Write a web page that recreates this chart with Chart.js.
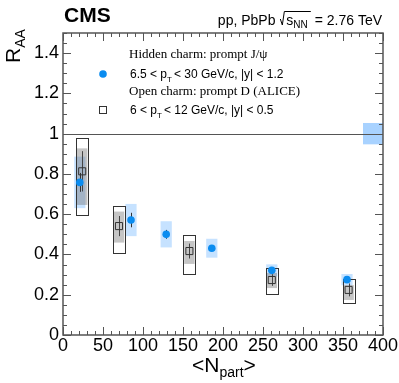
<!DOCTYPE html>
<html>
<head>
<meta charset="utf-8">
<script src="https://cdn.jsdelivr.net/npm/chart.js@4"></script>
<style>
  body { margin: 0; background: #fff; }
  canvas { display: block; }
</style>
</head>
<body>
<canvas id="raaChart" width="399" height="383"></canvas>
<script>
// axis ticks
const xTicks = [0, 50, 100, 150, 200, 250, 300, 350, 400];
const yTicks = [0, 0.2, 0.4, 0.6, 0.8, 1, 1.2, 1.4];
const yTickLabels = ["0", "0.2", "0.4", "0.6", "0.8", "1", "1.2", "1.4"];

// CMS prompt J/psi
const jpsiNpart = [21, 85, 129, 186, 261, 355];
const jpsiRaa = [0.758, 0.571, 0.500, 0.431, 0.321, 0.275];
const jpsiStat = [0.047, 0.036, 0.022, 0.012, 0.010, 0.010];
const jpsiSyst = [0.128, 0.080, 0.065, 0.047, 0.030, 0.028];
const jpsiGlobal = 0.053;

// ALICE prompt D
const dNpart = [24, 70, 158, 261, 357];
const dRaa = [0.813, 0.541, 0.417, 0.273, 0.224];
const dStat = [0.100, 0.050, 0.037, 0.029, 0.032];
const dSystHi = [0.114, 0.072, 0.050, 0.035, 0.024];
const dSystLo = [0.167, 0.082, 0.064, 0.040, 0.050];
const dOuterHi = [0.164, 0.100, 0.081, 0.061, 0.053];
const dOuterLo = [0.217, 0.135, 0.114, 0.071, 0.064];

const SANS = '"Liberation Sans", Arial, sans-serif';
const SERIF = '"Liberation Serif", "Times New Roman", serif';
const BLUE = "#0a8cf0";

// draw a line of text made of pieces (for subscripts)
function drawParts(ctx, parts, x, y) {
    parts.forEach(p => {
        ctx.font = p.font;
        ctx.fillText(p.t, x, y + (p.dy || 0));
        x += ctx.measureText(p.t).width + (p.gap || 0);
    });
    return x;
}

const decor = {
    id: "decor",
    beforeDatasetsDraw(chart) {
        const ctx = chart.ctx;
        const xs = chart.scales.x, ys = chart.scales.y;
        const px = v => xs.getPixelForValue(v);
        const py = v => ys.getPixelForValue(v);
        const area = chart.chartArea;
        ctx.save();

        // global uncertainty box at R=1
        ctx.fillStyle = "rgba(110,180,255,0.6)";
        ctx.fillRect(px(375), py(1 + jpsiGlobal), px(400) - px(375), py(1 - jpsiGlobal) - py(1 + jpsiGlobal));

        // line at unity
        ctx.strokeStyle = "#555";
        ctx.lineWidth = 1;
        ctx.beginPath();
        ctx.moveTo(area.left, Math.round(py(1)) + 0.5);
        ctx.lineTo(area.right, Math.round(py(1)) + 0.5);
        ctx.stroke();

        // J/psi syst boxes
        ctx.fillStyle = "rgba(120,185,255,0.42)";
        jpsiNpart.forEach((n, i) => {
            const v = jpsiRaa[i];
            ctx.fillRect(px(n - 7), py(v + jpsiSyst[i]), px(n + 7) - px(n - 7), py(v - jpsiSyst[i]) - py(v + jpsiSyst[i]));
        });

        // D boxes
        dNpart.forEach((n, i) => {
            const v = dRaa[i];
            ctx.fillStyle = "rgba(110,110,110,0.4)";
            ctx.fillRect(px(n - 6.5), py(v + dSystHi[i]), px(n + 6.5) - px(n - 6.5), py(v - dSystLo[i]) - py(v + dSystHi[i]));
            ctx.strokeStyle = "#333";
            ctx.lineWidth = 1;
            const x0 = Math.round(px(n - 7.5)) + 0.5, x1 = Math.round(px(n + 7.5)) + 0.5;
            const y0 = Math.round(py(v + dOuterHi[i])) + 0.5, y1 = Math.round(py(v - dOuterLo[i])) + 0.5;
            ctx.strokeRect(x0, y0, x1 - x0, y1 - y0);
            // stat bar
            ctx.strokeStyle = "#444";
            ctx.beginPath();
            ctx.moveTo(Math.round(px(n)) + 0.5, py(v + dStat[i]));
            ctx.lineTo(Math.round(px(n)) + 0.5, py(v - dStat[i]));
            ctx.stroke();
        });

        // J/psi stat bars
        ctx.strokeStyle = "#333";
        jpsiNpart.forEach((n, i) => {
            const v = jpsiRaa[i];
            ctx.beginPath();
            ctx.moveTo(Math.round(px(n)) + 0.5, py(v + jpsiStat[i]));
            ctx.lineTo(Math.round(px(n)) + 0.5, py(v - jpsiStat[i]));
            ctx.stroke();
        });
        ctx.restore();
    },
    afterDraw(chart) {
        const ctx = chart.ctx;
        const xs = chart.scales.x, ys = chart.scales.y;
        const px = v => xs.getPixelForValue(v);
        const py = v => ys.getPixelForValue(v);
        const a = chart.chartArea;
        ctx.save();

        // ticks (inward, mirrored)
        ctx.strokeStyle = "#555";
        ctx.lineWidth = 1;
        ctx.beginPath();
        for (let v = 0; v <= 400; v += 10) {
            const x = Math.round(px(v)) + 0.5;
            const len = v % 50 === 0 ? 8 : 4;
            ctx.moveTo(x, a.bottom); ctx.lineTo(x, a.bottom - len);
            ctx.moveTo(x, a.top); ctx.lineTo(x, a.top + len);
        }
        for (let k = 0; k <= 30; k++) {
            const y = Math.round(py(k * 0.05)) + 0.5;
            const len = k % 4 === 0 ? 8 : 4;
            ctx.moveTo(a.left, y); ctx.lineTo(a.left + len, y);
            ctx.moveTo(a.right, y); ctx.lineTo(a.right - len, y);
        }
        ctx.stroke();

        // frame
        ctx.lineWidth = 1.5;
        ctx.strokeStyle = "#555";
        ctx.strokeRect(a.left, a.top, a.right - a.left, a.bottom - a.top);

        // tick labels
        ctx.fillStyle = "#000";
        ctx.font = "18px " + SANS;
        ctx.textAlign = "center";
        ctx.textBaseline = "top";
        xTicks.forEach(v => ctx.fillText(String(v), px(v), a.bottom + 2));
        ctx.textAlign = "right";
        ctx.textBaseline = "middle";
        yTicks.forEach((v, i) => ctx.fillText(yTickLabels[i], a.left - 4, py(v)));

        // axis titles
        ctx.textAlign = "left";
        ctx.textBaseline = "alphabetic";
        drawParts(ctx, [
            { t: "<N", font: "21px " + SANS },
            { t: "part", font: "14px " + SANS, dy: 5 },
            { t: ">", font: "21px " + SANS }
        ], 192, 372);

        ctx.save();
        ctx.translate(20, 63);
        ctx.rotate(-Math.PI / 2);
        drawParts(ctx, [
            { t: "R", font: "21px " + SANS },
            { t: "AA", font: "14px " + SANS, dy: 5 }
        ], 0, 0);
        ctx.restore();

        // header
        ctx.font = "bold 21px " + SANS;
        ctx.fillText("CMS", 64, 22);
        ctx.font = "14px " + SANS;
        const tail = " = 2.76 TeV";
        let w = ctx.measureText("pp, PbPb ").width + ctx.measureText(tail).width;
        const sW = ctx.measureText("s").width;
        ctx.font = "10px " + SANS;
        const nnW = ctx.measureText("NN").width;
        w += 10 + sW + nnW;
        let x = 382 - w;
        ctx.font = "14px " + SANS;
        ctx.fillText("pp, PbPb ", x, 25);
        x += ctx.measureText("pp, PbPb ").width;
        // sqrt sign
        ctx.strokeStyle = "#000";
        ctx.lineWidth = 1;
        ctx.beginPath();
        ctx.moveTo(x + 1, 19);
        ctx.lineTo(x + 3, 25);
        ctx.lineTo(x + 5, 11.5);
        ctx.lineTo(x + 8 + sW + nnW + 2, 11.5);
        ctx.stroke();
        x += 7;
        ctx.fillText("s", x, 25);
        x += sW;
        ctx.font = "10px " + SANS;
        ctx.fillText("NN", x, 28);
        x += nnW + 3;
        ctx.font = "14px " + SANS;
        ctx.fillText(tail, x, 25);

        // legend
        ctx.font = "13px " + SERIF;
        ctx.fillText("Hidden charm: prompt J/\u03c8", 129, 58);
        ctx.fillText("Open charm: prompt D (ALICE)", 129, 95);
        drawParts(ctx, [
            { t: "6.5 < p", font: "12px " + SANS },
            { t: "T", font: "8px " + SANS, dy: 4, gap: 2 },
            { t: "< 30 GeV/c, |y| < 1.2", font: "12px " + SANS }
        ], 130, 78);
        drawParts(ctx, [
            { t: "6 < p", font: "12px " + SANS },
            { t: "T", font: "8px " + SANS, dy: 4, gap: 2 },
            { t: "< 12 GeV/c, |y| < 0.5", font: "12px " + SANS }
        ], 130, 114);
        ctx.fillStyle = BLUE;
        ctx.beginPath();
        ctx.arc(103, 74, 3.8, 0, Math.PI * 2);
        ctx.fill();
        ctx.strokeStyle = "#333";
        ctx.lineWidth = 1;
        ctx.strokeRect(99.5, 106.5, 7, 7);
        ctx.restore();
    }
};

new Chart(document.getElementById("raaChart"), {
    type: "scatter",
    data: {
        datasets: [{
            label: "Open charm: prompt D (ALICE)",
            data: dNpart.map((n, i) => ({ x: n, y: dRaa[i] })),
            pointStyle: "rect",
            pointRadius: 5,
            borderColor: "#333",
            backgroundColor: "rgba(0,0,0,0)",
            borderWidth: 1
        }, {
            label: "Hidden charm: prompt J/psi",
            data: jpsiNpart.map((n, i) => ({ x: n, y: jpsiRaa[i] })),
            pointStyle: "circle",
            pointRadius: 3.8,
            borderColor: BLUE,
            backgroundColor: BLUE,
            borderWidth: 0
        }]
    },
    options: {
        responsive: false,
        devicePixelRatio: 1,
        animation: false,
        layout: { padding: { left: 63, right: 16, top: 33, bottom: 48 } },
        plugins: { legend: { display: false }, tooltip: { enabled: false } },
        scales: {
            x: { type: "linear", min: 0, max: 400, display: false },
            y: { type: "linear", min: 0, max: 1.5, display: false }
        }
    },
    plugins: [decor]
});
</script>
</body>
</html>
